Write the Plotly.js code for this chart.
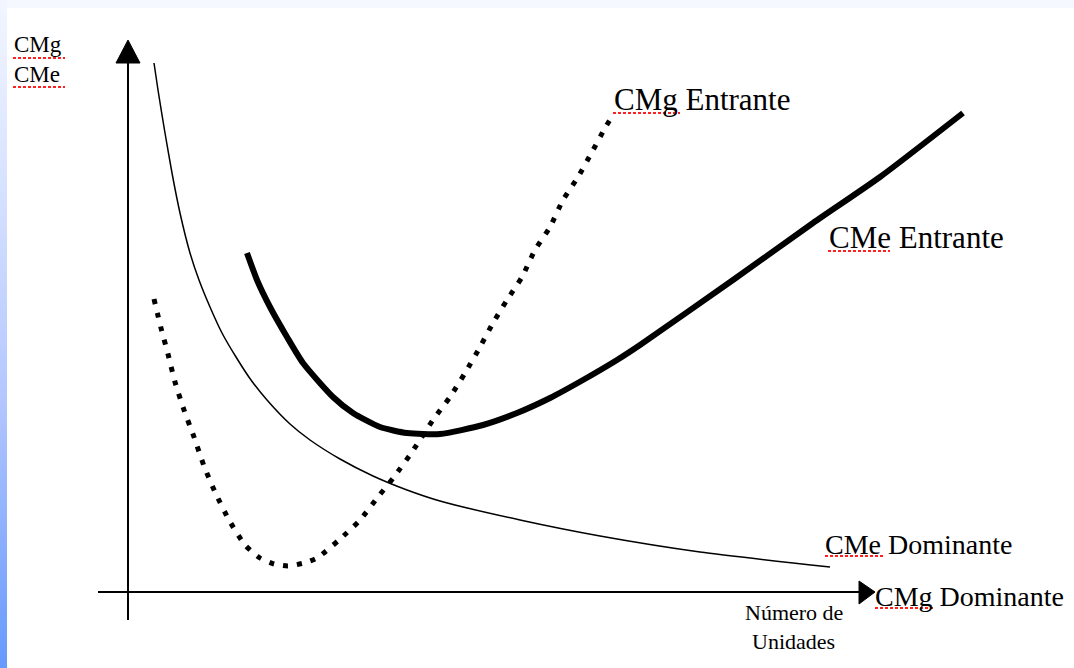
<!DOCTYPE html>
<html>
<head>
<meta charset="utf-8">
<script src="https://cdn.plot.ly/plotly-3.0.1.min.js"></script>
<style>
  html, body { margin: 0; padding: 0; background: #ffffff; width: 1074px; height: 668px; overflow: hidden; }
  #topstrip { position: absolute; left: 0; top: 0; width: 1074px; height: 8px; background: #f5f8ff; }
  #leftstrip { position: absolute; left: 0; top: 0; width: 7px; height: 668px;
    background: linear-gradient(to bottom, #f3f6ff 0%, #d4e0ff 30%, #b3c6ff 60%, #6699ff 100%); }
  #chart { position: absolute; left: 0; top: 0; width: 1074px; height: 668px; }
</style>
</head>
<body>
<div id="topstrip"></div>
<div id="leftstrip"></div>
<div id="chart"></div>
<script>
// Quantity (x) and cost (y) readings, origin at the axes crossing
const cmeDominanteX = [26, 30, 37, 44, 52, 62, 71, 82, 94, 108, 123, 139, 162, 182, 212, 245, 279, 312, 392, 472, 572, 702];
const cmeDominanteY = [529, 502, 459, 419, 379, 339, 312, 285, 259, 235, 212, 192, 168, 152, 133, 116, 102, 91, 72, 56, 40, 25];

const cmeEntranteX = [119, 129, 142, 159, 175, 205, 225, 252, 279, 312, 355, 389, 422, 455, 489, 512, 605, 685, 752, 835];
const cmeEntranteY = [339, 312, 285, 255, 229, 195, 179, 165, 159, 158, 167, 179, 194, 212, 232, 247, 312, 369, 415, 479];

const cmgEntranteX = [26, 33, 40, 47, 56, 66, 76, 87, 101, 117, 132, 146, 160, 176, 189, 211, 232, 250, 266, 284, 305, 322, 337, 352, 365, 379, 394, 407, 422, 435, 450, 464, 477, 485];
const cmgEntranteY = [293, 264, 238, 210, 182, 155, 126, 100, 72, 47, 34, 28, 26, 29, 34, 52, 72, 95, 115, 140, 172, 195, 219, 245, 269, 292, 315, 342, 365, 392, 415, 440, 464, 477];

const labelTexts = ["CMg Entrante", "CMe Entrante", "CMe Dominante", "CMg Dominante"];
const axisYLabels = ["CMg", "CMe"];
const axisXLabels = ["Número de", "Unidades"];

const traces = [
  { x: cmeDominanteX, y: cmeDominanteY, mode: 'lines', name: 'CMe Dominante',
    line: { color: '#000000', width: 1.5, shape: 'spline', smoothing: 0.6 }, hoverinfo: 'skip' },
  { x: cmgEntranteX, y: cmgEntranteY, mode: 'lines', name: 'CMg Entrante',
    line: { color: '#000000', width: 5, shape: 'spline', smoothing: 0.6, dash: '5px,9px' }, hoverinfo: 'skip' },
  { x: cmeEntranteX, y: cmeEntranteY, mode: 'lines', name: 'CMe Entrante',
    line: { color: '#000000', width: 6, shape: 'spline', smoothing: 0.6 }, hoverinfo: 'skip' }
];

const serif = 'Liberation Serif, Times New Roman, serif';
function ann(text, x, y, size, xanchor) {
  return { text: text, x: x, y: y, xref: 'x', yref: 'y', showarrow: false,
    xanchor: xanchor || 'left', yanchor: 'middle', align: 'left',
    font: { family: serif, size: size, color: '#000000' } };
}
const annotations = [
  ann(labelTexts[0], 484, 493, 31),
  ann(labelTexts[1], 699, 355, 31),
  ann(labelTexts[2], 695, 48, 28),
  ann(labelTexts[3], 745, -4, 28),
  ann(axisYLabels.join('<br>'), -116, 533, 23),
  ann(axisXLabels[0], 666, -20, 22, 'center'),
  ann(axisXLabels[1], 665, -49, 22, 'center')
];

function squiggle(x0, x1, y) {
  return { type: 'line', xref: 'x', yref: 'y', x0: x0, x1: x1, y0: y, y1: y,
    line: { color: '#ff2020', width: 2, dash: '3px,2px' } };
}
const shapes = [
  // vertical axis
  { type: 'line', xref: 'x', yref: 'y', x0: 0, x1: 0, y0: -28, y1: 531, line: { color: '#000', width: 2 } },
  { type: 'path', xref: 'x', yref: 'y', path: 'M -12 529 L 0 552 L 12 529 Z', fillcolor: '#000', line: { color: '#000', width: 1 } },
  // horizontal axis
  { type: 'line', xref: 'x', yref: 'y', x0: -30, x1: 733, y0: 0, y1: 0, line: { color: '#000', width: 2 } },
  { type: 'path', xref: 'x', yref: 'y', path: 'M 731 11 L 747 0 L 731 -12 Z', fillcolor: '#000', line: { color: '#000', width: 1 } },
  // spell-check underlines
  squiggle(485, 552, 479),
  squiggle(700, 762, 341),
  squiggle(697, 757, 36),
  squiggle(747, 807, -16),
  squiggle(-115, -63, 534),
  squiggle(-115, -63, 505)
];

const layout = {
  width: 1074, height: 668, autosize: false,
  margin: { l: 0, r: 0, t: 0, b: 0, pad: 0 },
  paper_bgcolor: 'rgba(0,0,0,0)', plot_bgcolor: 'rgba(0,0,0,0)',
  showlegend: false,
  xaxis: { range: [-128, 946], visible: false, fixedrange: true },
  yaxis: { range: [-76, 592], visible: false, fixedrange: true },
  annotations: annotations,
  shapes: shapes
};

Plotly.newPlot('chart', traces, layout, { staticPlot: true, displayModeBar: false });
</script>
</body>
</html>
